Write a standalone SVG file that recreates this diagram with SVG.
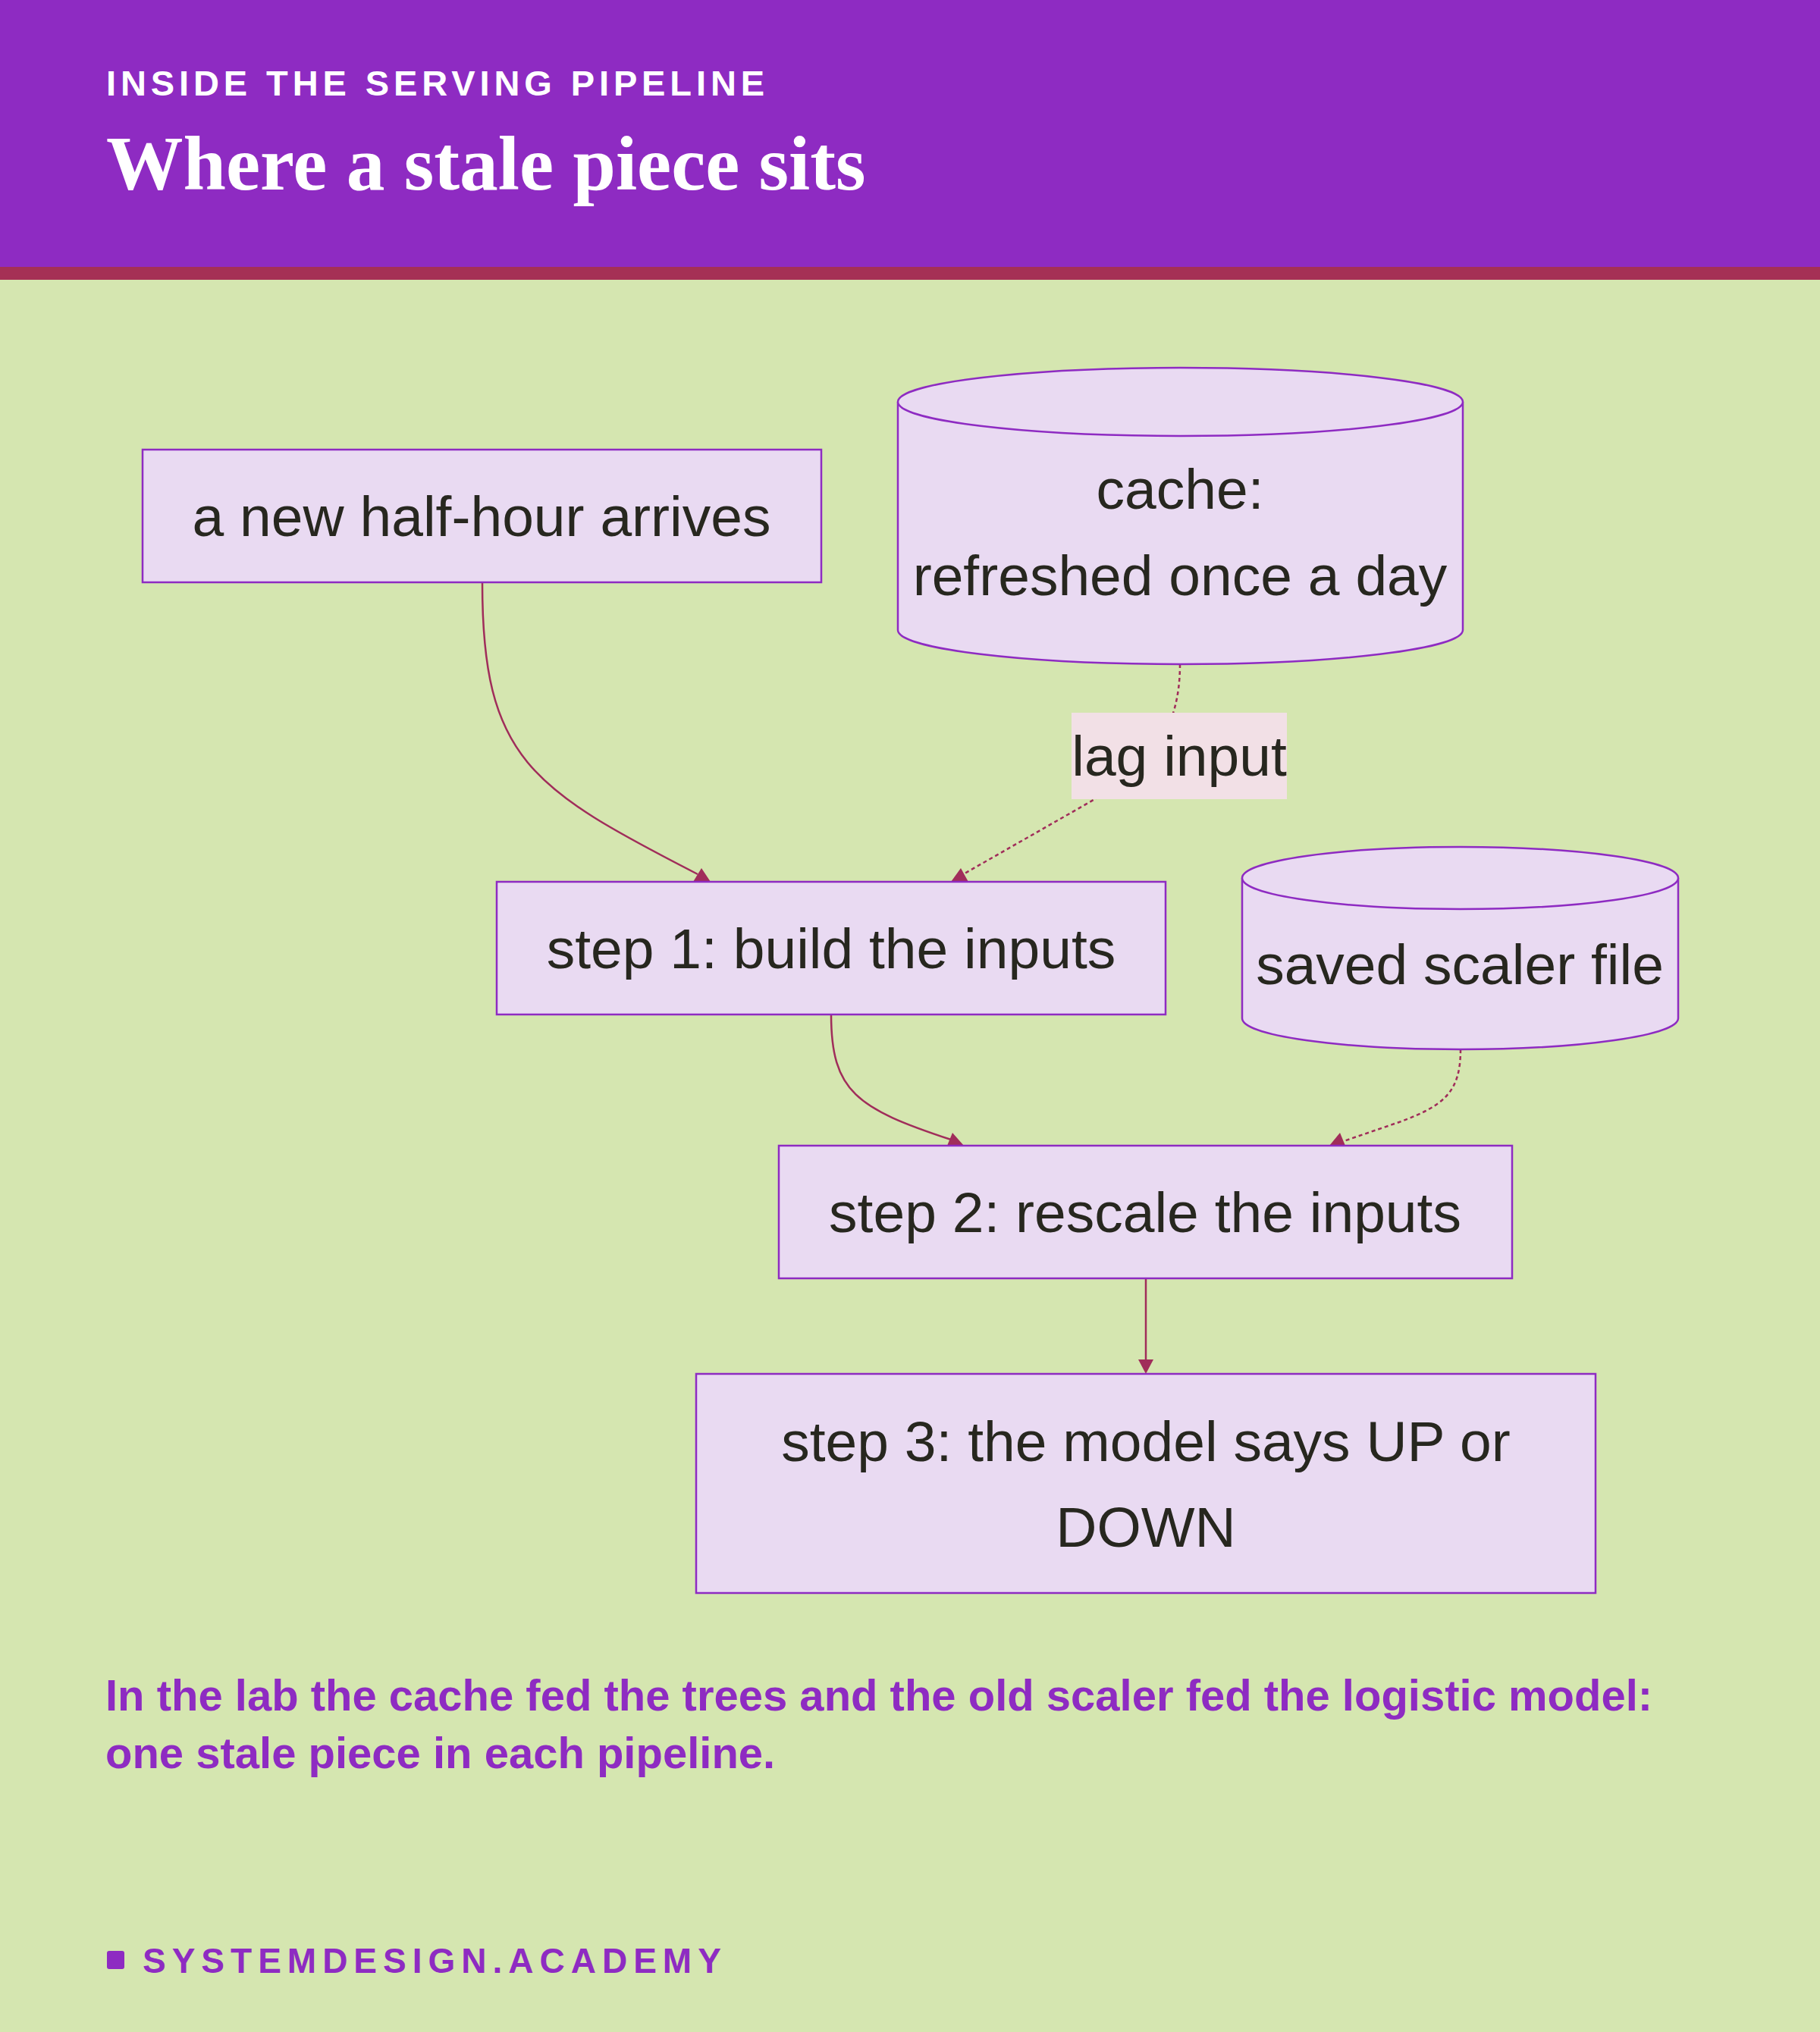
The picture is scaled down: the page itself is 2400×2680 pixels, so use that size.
<svg xmlns="http://www.w3.org/2000/svg" width="2400" height="2680" viewBox="0 0 2400 2680">
<style>
.node{fill:#e9daf2;stroke:#8e2bc2;stroke-width:2.5}
.lbl{font-family:"Liberation Sans",Arial,sans-serif;font-size:75px;fill:#27271f;text-anchor:middle}
.edge{fill:none;stroke:#a02d5a;stroke-width:2.5}
.dot{stroke-dasharray:5 4}
.head{fill:#a02d5a}
</style>
<rect x="0" y="0" width="2400" height="2680" fill="#d5e6b0"/>
<g id="header">
<rect x="0" y="0" width="2400" height="352" fill="#8e2bc2"/>
<rect x="0" y="352" width="2400" height="17" fill="#a53055"/>
<text x="140" y="126" font-family="Liberation Sans,Arial,sans-serif" font-weight="bold" font-size="47" letter-spacing="5.9" fill="#ffffff">INSIDE THE SERVING PIPELINE</text>
<text x="140" y="250" font-family="Liberation Serif,Times New Roman,serif" font-weight="bold" font-size="101.5" fill="#ffffff">Where a stale piece sits</text>
</g>
<g id="connectors">
<path class="edge" d="M636,769 C636,1000 700,1040 920,1153"/>
<polygon class="head" points="925,1145 914,1163 937,1163"/>
<path class="edge dot" d="M1556,876 C1556,960 1520,1010 1442,1055 L1272,1152"/>
<polygon class="head" points="1267,1145 1254,1163 1277,1163"/>
<path class="edge" d="M1096,1338 C1096,1440 1130,1462 1254,1503"/>
<polygon class="head" points="1256,1494 1249,1511 1271,1511"/>
<path class="edge dot" d="M1926,1384 C1926,1440 1905,1458 1845,1480 L1772,1505"/>
<polygon class="head" points="1767,1494 1753,1511 1774,1511"/>
<path class="edge" d="M1511,1686 L1511,1795"/>
<polygon class="head" points="1501,1793 1521,1793 1511,1812"/>
<g id="edge-label-lag">
<rect x="1413" y="940" width="284" height="114" fill="#f2e0e6"/>
<text class="lbl" x="1555" y="1023">lag input</text>
</g>
</g>
<g id="node-arrives">
<rect class="node" x="188" y="593" width="895" height="175"/>
<text class="lbl" x="635" y="707">a new half-hour arrives</text>
</g>
<g id="node-cache">
<path class="node" d="M1184,530 A372.5,45 0 0 1 1929,530 L1929,831 A372.5,45 0 0 1 1184,831 Z"/>
<path class="node" fill="none" d="M1184,530 A372.5,45 0 0 0 1929,530"/>
<text class="lbl" x="1556" y="671">cache:</text>
<text class="lbl" x="1556" y="785">refreshed once a day</text>
</g>
<g id="node-step1">
<rect class="node" x="655" y="1163" width="882" height="175"/>
<text class="lbl" x="1096" y="1277">step 1: build the inputs</text>
</g>
<g id="node-scaler">
<path class="node" d="M1638,1158 A287.5,41 0 0 1 2213,1158 L2213,1343 A287.5,41 0 0 1 1638,1343 Z"/>
<path class="node" fill="none" d="M1638,1158 A287.5,41 0 0 0 2213,1158"/>
<text class="lbl" x="1925" y="1298">saved scaler file</text>
</g>
<g id="node-step2">
<rect class="node" x="1027" y="1511" width="967" height="175"/>
<text class="lbl" x="1510" y="1625">step 2: rescale the inputs</text>
</g>
<g id="node-step3">
<rect class="node" x="918" y="1812" width="1186" height="289"/>
<text class="lbl" x="1511" y="1927">step 3: the model says UP or</text>
<text class="lbl" x="1511" y="2040">DOWN</text>
</g>
<g id="caption">
<text font-family="Liberation Sans,Arial,sans-serif" font-weight="bold" font-size="58" fill="#8e2bc2"><tspan x="139" y="2256">In the lab the cache fed the trees and the old scaler fed the logistic model:</tspan><tspan x="139" y="2332">one stale piece in each pipeline.</tspan></text>
</g>
<g id="footer">
<rect x="141" y="2573" width="23" height="24" rx="3" fill="#8e2bc2"/>
<text x="188" y="2602" font-family="Liberation Sans,Arial,sans-serif" font-weight="bold" font-size="46" letter-spacing="8" fill="#8e2bc2">SYSTEMDESIGN.ACADEMY</text>
</g>
</svg>
